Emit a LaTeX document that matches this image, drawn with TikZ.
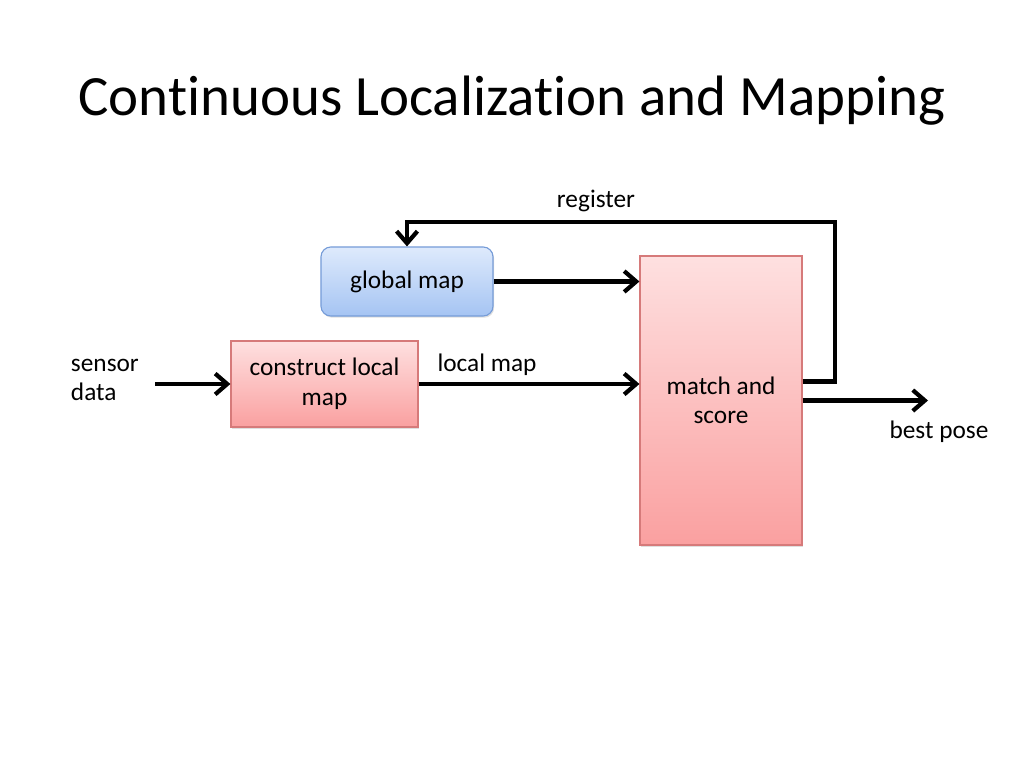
\documentclass[tikz,border=0pt]{standalone}
\usepackage{fontspec}
\setmainfont{Carlito}[Ligatures=NoCommon]
\usepackage{tikz}
\usetikzlibrary{positioning, arrows.meta, shadows, calc}
\definecolor{BlueTop}{RGB}{222,234,252}
\definecolor{BlueBottom}{RGB}{165,196,243}
\definecolor{BlueBorder}{RGB}{118,156,216}
\definecolor{RedTop}{RGB}{254,224,224}
\definecolor{RedBottom}{RGB}{250,160,160}
\definecolor{RedBorder}{RGB}{214,122,122}

\begin{document}
\begin{tikzpicture}[x=0.025cm,y=-0.025cm,
    every node/.style={font=\fontsize{18}{21}\selectfont},
    bluebox/.style={draw=BlueBorder, line width=0.8pt, rounded corners=7pt, top color=BlueTop, bottom color=BlueBottom,
      drop shadow={opacity=0.25, shadow xshift=0.8pt, shadow yshift=-1.2pt}, inner sep=0pt, align=center},
    redbox/.style={draw=RedBorder, line width=0.8pt, top color=RedTop, bottom color=RedBottom,
      drop shadow={opacity=0.25, shadow xshift=0.8pt, shadow yshift=-1.2pt}, inner sep=0pt, align=center},
    flow/.style={line width=3pt, line join=miter, -{Straight Barb[length=3mm,width=5.2mm,line width=3pt]}}]
  \useasboundingbox (0,0) rectangle (1024,768);

  \node (title) at (512,101) {\fontsize{40.5}{48}\selectfont Continuous Localization and Mapping};

  \node[bluebox, minimum width=4.3cm, minimum height=1.725cm] (global) at (407,281.5) {global map};
  \node[redbox, minimum width=4.675cm, minimum height=2.15cm] (construct) at (324.5,384) {construct local\\map};
  \node[redbox, minimum width=4.05cm, minimum height=7.225cm] (match) at (721,400.5) {match and\\score};

  \node[anchor=west, align=left] (sensor) at (66,380) {sensor\\data};
  \coordinate (sensorend) at (155,384);
  \coordinate (regcorner) at (835,222);
  \coordinate (poseend) at (928,400.5);

  \draw[flow] (sensorend) -- (construct.west);
  \draw[flow] (construct.east) -- (construct.east -| match.west)
    node[pos=0.31, above=1pt] (localmap) {local map};
  \draw[flow] (global.east) -- (global.east -| match.west);
  \draw[flow] ([yshift=0.475cm]match.east) -| (regcorner) -| (global.north);
  \node (register) at (596,201) {register};
  \draw[flow] (match.east) -- (poseend);
  \node (bestpose) at (939,432) {best pose};
\end{tikzpicture}
\end{document}
